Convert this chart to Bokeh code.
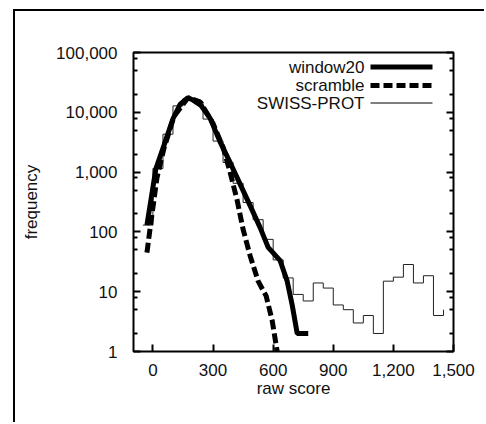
from bokeh.plotting import figure
from bokeh.models import (FixedTicker, LogAxis, Range1d, Label, Arrow,
                          NumeralTickFormatter, CustomJSTickFormatter)
from bokeh.embed import file_html
from bokeh.resources import INLINE

# ---- data ----
window20_x = [-30, 15, 55, 100, 135, 175, 200, 240, 285, 335, 385, 435, 485, 535, 575, 635, 670, 695, 720, 775]
window20_y = [130, 1150, 2800, 7800, 13500, 17500, 16000, 13000, 8000, 3200, 1450, 630, 275, 118, 55, 33, 15, 6, 2, 2]

scramble_x = [-30, -12, 20, 55, 105, 175, 235, 300, 350, 385, 420, 450, 485, 525, 565, 595, 620]
scramble_y = [45, 130, 800, 2500, 8500, 17500, 15000, 6500, 2600, 1000, 340, 110, 40, 15, 8.5, 3.3, 1]

swiss_x = [-50, 0, 50, 100, 150, 200, 250, 300, 350, 400, 450, 500, 550, 600, 650, 700,
           750, 800, 850, 900, 950, 1000, 1050, 1100, 1150, 1200, 1250, 1300, 1350, 1400, 1450]
swiss_y = [130, 1150, 4300, 12800, 17000, 15000, 7700, 3300, 1450, 650, 310, 160, 75, 34, 17, 9,
           7, 14, 11.5, 6, 5, 3, 4, 2, 15, 17.5, 28.5, 14, 18.5, 4, 5]

x_ticks = [0, 300, 600, 900, 1200, 1500]
y_ticks = [1, 10, 100, 1000, 10000, 100000]
y_minor = [m * d for d in [1, 10, 100, 1000, 10000] for m in (2, 5, 8)]

legend_names = ["window20", "scramble", "SWISS-PROT"]

FONT = "Liberation Sans"
FS = "17px"

p = figure(width=484, height=422,
           x_range=Range1d(-97, 1500), y_range=Range1d(1, 100000),
           y_axis_type="log", output_backend="svg", toolbar_location=None,
           min_border_left=133, min_border_top=52, min_border_right=31, min_border_bottom=71)
# outer frame lines drawn behind a transparent canvas border
p.styles = {"background": "linear-gradient(#000,#000) 13px 9px / 2px 100% no-repeat, "
                          "linear-gradient(#000,#000) 13px 9px / 100% 2px no-repeat, #fff"}

p.xgrid.visible = False
p.ygrid.visible = False
p.outline_line_color = "black"
p.outline_line_width = 2
p.background_fill_color = "white"
p.border_fill_color = None
p.border_fill_alpha = 0

# histogram + curves
p.step(swiss_x, swiss_y, mode="after", line_width=1, line_color="#222222")
p.line(scramble_x, scramble_y, line_width=5, line_color="black", line_dash="10 4")
p.line(window20_x, window20_y, line_width=5, line_color="black")

# axes
xa = p.xaxis[0]
xa.ticker = FixedTicker(ticks=x_ticks, minor_ticks=[])
xa.formatter = NumeralTickFormatter(format="0,0")
ya = p.yaxis[0]
ya.ticker = FixedTicker(ticks=y_ticks, minor_ticks=y_minor)
ya.formatter = NumeralTickFormatter(format="0,0")

for ax in (xa, ya):
    ax.axis_line_color = None
    ax.major_tick_in = 7
    ax.major_tick_out = 0
    ax.minor_tick_in = 4
    ax.minor_tick_out = 0
    ax.major_tick_line_width = 2
    ax.minor_tick_line_width = 2
    ax.major_label_text_font = FONT
    ax.major_label_text_font_size = FS
    ax.major_label_text_color = "#111111"
    ax.axis_label_text_font = FONT
    ax.axis_label_text_font_size = FS
    ax.axis_label_text_font_style = "normal"
    ax.axis_label_text_color = "#111111"

xa.axis_label = "raw score"
xa.major_label_standoff = 12
xa.axis_label_standoff = 0
ya.axis_label = "frequency"
ya.major_label_standoff = 16
ya.axis_label_standoff = 12

ra = LogAxis(ticker=FixedTicker(ticks=y_ticks, minor_ticks=y_minor),
             formatter=CustomJSTickFormatter(code="return ''"))
ra.axis_line_color = None
ra.major_tick_in = 7
ra.major_tick_out = 0
ra.minor_tick_in = 4
ra.minor_tick_out = 0
ra.major_tick_line_width = 2
ra.minor_tick_line_width = 2
ra.major_label_standoff = 0
p.add_layout(ra, "right")

# legend: screen units are measured from the frame's bottom-left corner
leg_y = [284.5, 266, 248.5]
styles = [dict(line_width=5, line_dash="solid"),
          dict(line_width=5, line_dash="9 4"),
          dict(line_width=1, line_dash="solid")]
for name, yy, st in zip(legend_names, leg_y, styles):
    p.add_layout(Label(x=231, y=yy, x_units="screen", y_units="screen", text=name,
                       text_align="right", text_baseline="middle",
                       text_font=FONT, text_font_size=FS, text_color="#111111"))
    p.add_layout(Arrow(end=None, x_start=237, y_start=yy, x_end=299, y_end=yy,
                       start_units="screen", end_units="screen",
                       line_color="black", line_width=st["line_width"], line_dash=st["line_dash"]))

open("out.html", "w").write(file_html(p, INLINE))
